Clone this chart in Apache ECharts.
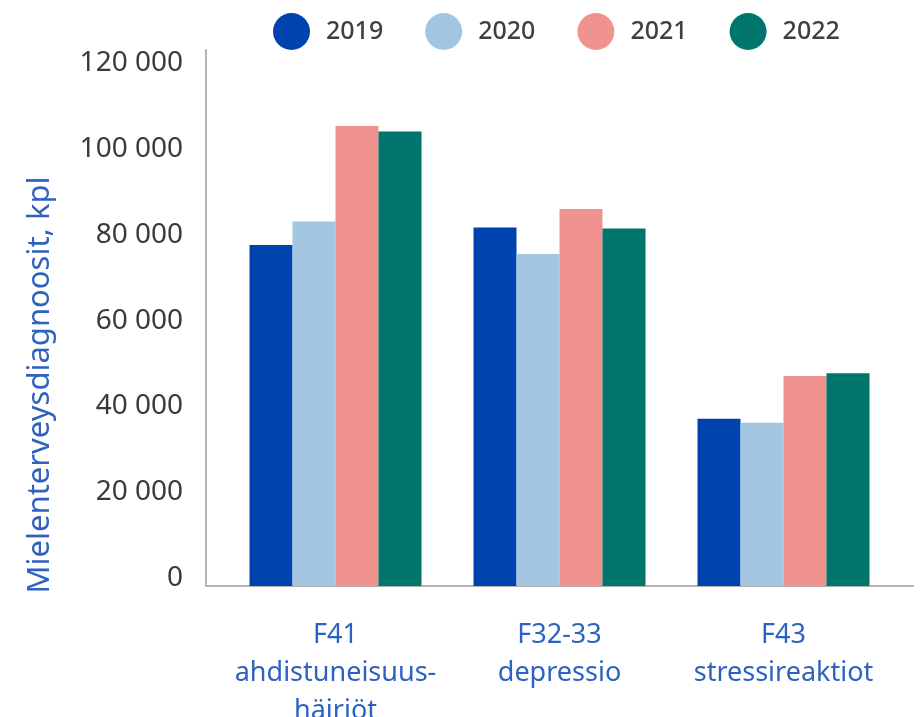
<!DOCTYPE html>
<html>
<head>
<meta charset="utf-8">
<script src="https://cdn.jsdelivr.net/npm/echarts@6/dist/echarts.min.js"></script>
<style>
  html, body { margin: 0; padding: 0; background: #fff; }
  #chart { width: 922px; height: 717px; }
</style>
</head>
<body>
<div id="chart"></div>
<script>
var chart = echarts.init(document.getElementById('chart'));

var categories = ['F41\nahdistuneisuus-\nhäiriöt', 'F32-33\ndepressio', 'F43\nstressireaktiot'];
var years = ['2019', '2020', '2021', '2022'];
var colors = ['#0043ae', '#a3c6e0', '#ef9290', '#00756b'];
var v2019 = [79500, 83600, 39000];
var v2020 = [85000, 77400, 38100];
var v2021 = [107300, 87900, 49000];
var v2022 = [106000, 83400, 49600];
var yTicks = { min: 0, max: 125000, step: 20000 };

var values = [v2019, v2020, v2021, v2022];
var blue = '#2f62c0';
var font = 'Noto Sans';

var series = years.map(function (y, i) {
    return {
        name: y,
        type: 'bar',
        xAxisIndex: 0,
        yAxisIndex: 0,
        data: values[i],
        barWidth: 43,
        barGap: '0%',
        itemStyle: { color: colors[i] }
    };
});

var option = {
    animation: false,
    color: colors,
    legend: {
        data: years,
        left: 268,
        top: 8,
        icon: 'circle',
        itemWidth: 37,
        itemHeight: 37,
        itemGap: 42,
        textStyle: {
            fontFamily: font,
            fontSize: 25,
            fontWeight: 500,
            color: '#404040',
            padding: [0, 0, 0, 11]
        }
    },
    grid: [
        { left: 223.5, right: 26.5, top: 50, bottom: 131, outerBoundsMode: 'none' },
        { left: 206, right: 9, top: 50, bottom: 131, outerBoundsMode: 'none' }
    ],
    xAxis: [
        {
            type: 'category',
            gridIndex: 0,
            data: categories,
            axisLine: { show: false },
            axisTick: { show: false },
            axisLabel: {
                interval: 0,
                margin: 30,
                fontFamily: font,
                fontSize: 27,
                lineHeight: 38,
                color: blue
            }
        },
        {
            type: 'category',
            gridIndex: 1,
            data: [''],
            axisLine: { show: true, lineStyle: { color: '#b3b3b3', width: 2 } },
            axisTick: { show: false },
            axisLabel: { show: false }
        }
    ],
    yAxis: [
        {
            type: 'value',
            gridIndex: 0,
            min: yTicks.min,
            max: yTicks.max,
            interval: yTicks.step,
            show: false,
            splitLine: { show: false }
        },
        {
            type: 'value',
            gridIndex: 1,
            min: yTicks.min,
            max: yTicks.max,
            interval: yTicks.step,
            name: 'Mielenterveysdiagnoosit, kpl',
            nameLocation: 'middle',
            nameGap: 150,
            nameTextStyle: {
                fontFamily: font,
                fontSize: 31,
                color: blue,
                padding: [0, 134, 0, 0]
            },
            axisLine: { show: true, lineStyle: { color: '#b3b3b3', width: 2 } },
            axisTick: { show: false },
            splitLine: { show: false },
            axisLabel: {
                showMaxLabel: false,
                margin: 23,
                verticalAlign: 'bottom',
                lineHeight: 16,
                fontFamily: font,
                fontSize: 28,
                color: '#3a3a3a',
                formatter: function (v) {
                    return v === 0 ? '0' : (v / 1000) + ' 000';
                }
            }
        }
    ],
    series: series
};

chart.setOption(option);
</script>
</body>
</html>
